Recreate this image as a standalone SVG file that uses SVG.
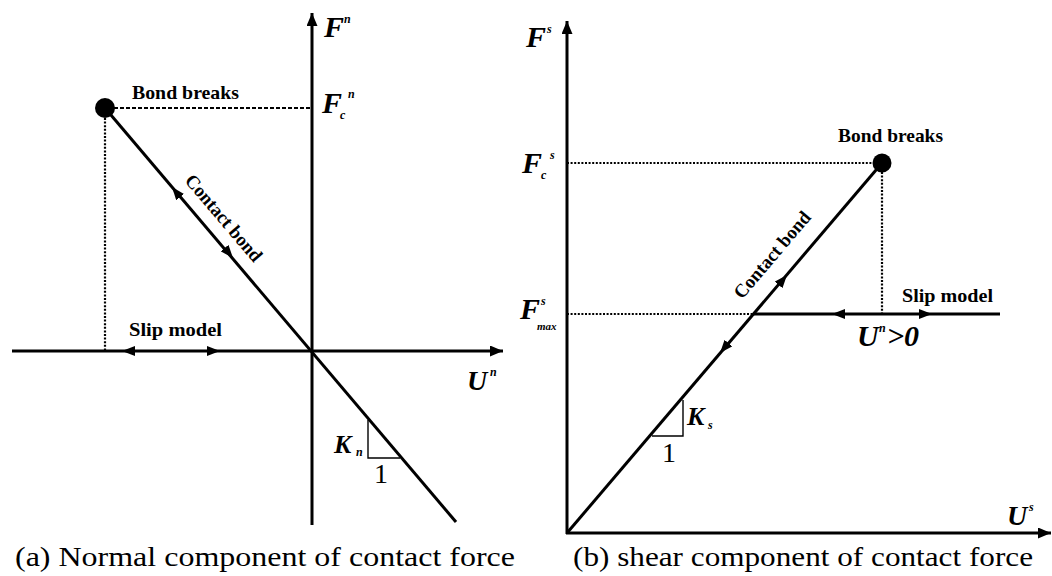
<svg xmlns="http://www.w3.org/2000/svg" width="1052" height="576" viewBox="0 0 1052 576">
<defs>
<style>
.axis{stroke:#000;stroke-width:3;fill:none}
.line{stroke:#000;stroke-width:3;fill:none}
.dash{stroke:#000;stroke-width:2.2;fill:none;stroke-dasharray:4,2}
.dot{stroke:#000;stroke-width:2.2;fill:none;stroke-dasharray:2,1.6}
.thin{stroke:#000;stroke-width:1.4;fill:none}
.arr{stroke:none;fill:none}
.lbl{font-family:"Liberation Serif",serif;font-weight:bold;font-size:19px;fill:#000}
.var{font-family:"Liberation Serif",serif;font-style:italic;font-weight:bold;fill:#000}
.num{font-family:"Liberation Serif",serif;fill:#000;font-size:28px}
.cap{font-family:"Liberation Serif",serif;fill:#000;font-size:27px}
</style>
<marker id="ax" viewBox="0 0 13 11" refX="13" refY="5.5" markerWidth="13" markerHeight="11" markerUnits="userSpaceOnUse" orient="auto"><path d="M0,0 L13,5.5 L0,11 z" fill="#000"/></marker>
<marker id="ah" viewBox="0 0 13 10" refX="13" refY="5" markerWidth="13" markerHeight="10" markerUnits="userSpaceOnUse" orient="auto"><path d="M0,0 L13,5 L0,10 z" fill="#000"/></marker>
</defs>
<rect width="1052" height="576" fill="#fff"/>

<g id="connectors">
<path class="axis" d="M312,525 L312,13" marker-end="url(#ax)"/>
<path class="axis" d="M12,351 L503,351" marker-end="url(#ax)"/>
<path class="dash" d="M114,108 L312,108"/>
<path class="dot" d="M105,118 L105,351"/>
<path class="line" d="M105,108 L456,522"/>
<path class="arr" d="M180,197 L172,187" marker-end="url(#ah)"/>
<path class="arr" d="M225,248.5 L233,258" marker-end="url(#ah)"/>
<path class="arr" d="M135,351 L122,351" marker-end="url(#ah)"/>
<path class="arr" d="M207,351 L220,351" marker-end="url(#ah)"/>
<path class="thin" d="M368,420 L368,458 L400,458"/>

<path class="axis" d="M567,534 L567,21" marker-end="url(#ax)"/>
<path class="axis" d="M566,533 L1051,533" marker-end="url(#ax)"/>
<path class="dot" d="M567,163 L873,163"/>
<path class="dot" d="M882,172 L882,314"/>
<path class="dot" d="M567,314 L753,314"/>
<path class="line" d="M753,314 L1000,314"/>
<path class="line" d="M567,533 L882,163"/>
<path class="arr" d="M779,284.5 L787,275" marker-end="url(#ah)"/>
<path class="arr" d="M728,343.5 L720,353" marker-end="url(#ah)"/>
<path class="arr" d="M845,314 L832,314" marker-end="url(#ah)"/>
<path class="arr" d="M919,314 L932,314" marker-end="url(#ah)"/>
<path class="thin" d="M683,400 L683,436 L652,436"/>
</g>

<g id="left-break-point"><circle cx="105" cy="108" r="10" fill="#000"/></g>
<g id="right-break-point"><circle cx="882" cy="163" r="9.5" fill="#000"/></g>

<g id="left-labels">
<text class="lbl" x="132" y="99" textLength="107" lengthAdjust="spacingAndGlyphs">Bond breaks</text>
<text class="lbl" x="129" y="336" textLength="93" lengthAdjust="spacingAndGlyphs">Slip model</text>
<text class="lbl" transform="translate(184,181) rotate(49.6)" textLength="108" lengthAdjust="spacingAndGlyphs">Contact bond</text>
<text class="var" x="324" y="37" font-size="30">F</text>
<text class="var" x="344" y="23" font-size="12">n</text>
<text class="var" x="322" y="113" font-size="30">F</text>
<text class="var" x="340" y="119" font-size="12">c</text>
<text class="var" x="348" y="98" font-size="12">n</text>
<text class="var" x="467" y="390" font-size="28">U</text>
<text class="var" x="490" y="376" font-size="12">n</text>
<text class="var" x="334" y="453" font-size="26">K</text>
<text class="var" x="356" y="456" font-size="12">n</text>
<text class="num" x="374" y="483">1</text>
<text class="cap" x="15" y="566" textLength="500" lengthAdjust="spacingAndGlyphs">(a) Normal component of contact force</text>
</g>

<g id="right-labels">
<text class="lbl" x="838" y="142" textLength="105" lengthAdjust="spacingAndGlyphs">Bond breaks</text>
<text class="lbl" x="902" y="302" textLength="91" lengthAdjust="spacingAndGlyphs">Slip model</text>
<text class="lbl" transform="translate(742,300) rotate(-49.6)" textLength="108" lengthAdjust="spacingAndGlyphs">Contact bond</text>
<text class="var" x="526" y="47" font-size="30">F</text>
<text class="var" x="547" y="33" font-size="12">s</text>
<text class="var" x="522" y="173" font-size="30">F</text>
<text class="var" x="541" y="179" font-size="12">c</text>
<text class="var" x="550" y="159" font-size="12">s</text>
<text class="var" x="520" y="319" font-size="30">F</text>
<text class="var" x="541" y="305" font-size="12">s</text>
<text class="var" x="537" y="330" font-size="11">max</text>
<text class="var" x="857" y="346" font-size="30" font-weight="normal">U</text>
<text class="var" x="879" y="332" font-size="12">n</text>
<text class="var" x="887" y="346" font-size="30" font-weight="normal">&gt;0</text>
<text class="var" x="687" y="425" font-size="26">K</text>
<text class="var" x="708" y="429" font-size="12">s</text>
<text class="num" x="662" y="462">1</text>
<text class="var" x="1007" y="525" font-size="28">U</text>
<text class="var" x="1029" y="511" font-size="12">s</text>
<text class="cap" x="573" y="566" textLength="460" lengthAdjust="spacingAndGlyphs">(b) shear component of contact force</text>
</g>
</svg>
